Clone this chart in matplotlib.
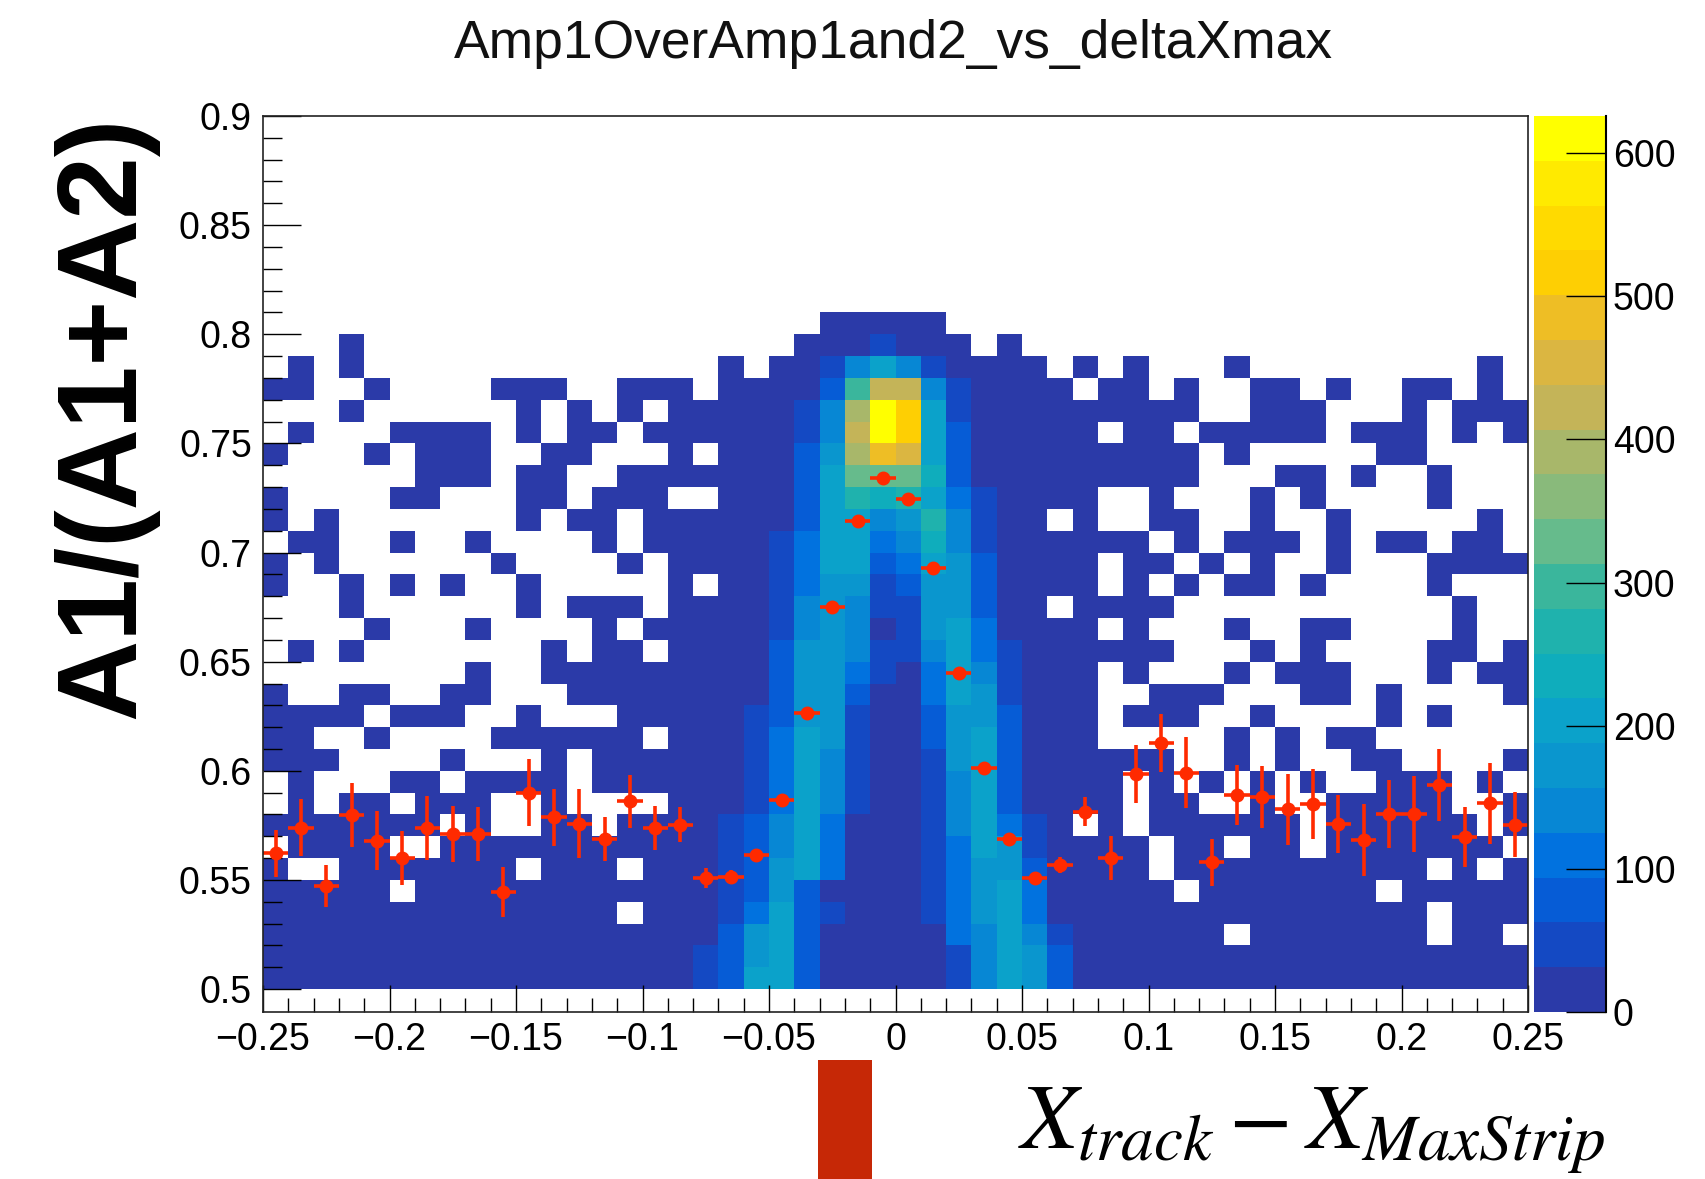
import numpy as np
import matplotlib
matplotlib.use('Agg')
import matplotlib.pyplot as plt
from matplotlib.colors import LinearSegmentedColormap
from matplotlib.patches import FancyBboxPatch

plt.rcParams['font.family'] = ['Liberation Sans', 'DejaVu Sans']
plt.rcParams['mathtext.fontset'] = 'stix'

# occupied bins per row, top row (0.80-0.81) first, as inclusive column ranges
filled_ranges = [
    [(22, 26)],
    [(3, 3), (21, 27), (29, 29)],
    [(1, 1), (3, 3), (18, 18), (20, 30), (32, 32), (34, 34), (38, 38), (48, 48)],
    [(0, 1), (4, 4), (9, 11), (14, 16), (18, 31), (33, 34), (36, 36), (39, 40), (42, 42), (45, 46), (48, 48)],
    [(3, 3), (10, 10), (12, 12), (14, 14), (16, 36), (39, 41), (45, 45), (47, 49)],
    [(1, 1), (5, 8), (10, 10), (12, 13), (15, 32), (34, 35), (37, 41), (43, 45), (47, 47), (49, 49)],
    [(0, 0), (4, 4), (6, 8), (11, 12), (16, 16), (18, 36), (38, 38), (44, 45)],
    [(6, 8), (10, 11), (14, 36), (40, 41), (43, 43), (46, 46)],
    [(0, 0), (5, 6), (10, 11), (13, 15), (18, 32), (35, 35), (39, 39), (41, 41), (46, 46)],
    [(0, 0), (2, 2), (10, 10), (12, 13), (15, 30), (32, 32), (35, 36), (39, 39), (42, 42), (48, 48)],
    [(1, 2), (5, 5), (8, 8), (13, 13), (15, 34), (36, 36), (38, 40), (42, 42), (44, 45), (47, 48)],
    [(0, 0), (2, 2), (9, 9), (14, 14), (16, 32), (34, 35), (37, 37), (39, 39), (42, 42), (46, 49)],
    [(0, 0), (3, 3), (5, 5), (7, 7), (10, 10), (16, 16), (18, 32), (34, 34), (36, 36), (38, 39), (41, 41), (46, 46)],
    [(3, 3), (10, 10), (12, 14), (16, 30), (32, 35), (47, 47)],
    [(4, 4), (8, 8), (13, 13), (15, 32), (34, 34), (38, 38), (41, 42), (47, 47)],
    [(1, 1), (3, 3), (11, 11), (13, 14), (16, 35), (39, 39), (41, 41), (46, 47), (49, 49)],
    [(8, 8), (11, 32), (34, 34), (38, 38), (40, 42), (46, 46), (48, 49)],
    [(0, 0), (3, 4), (7, 8), (12, 32), (35, 37), (41, 42), (44, 44), (49, 49)],
    [(0, 3), (5, 7), (10, 10), (14, 32), (34, 36), (39, 39), (44, 44), (46, 46)],
    [(0, 1), (4, 4), (9, 14), (16, 32), (38, 38), (40, 40), (42, 43)],
    [(0, 2), (7, 7), (11, 11), (13, 35), (38, 38), (40, 40), (43, 44), (49, 49)],
    [(1, 1), (5, 6), (8, 11), (13, 33), (35, 35), (37, 37), (39, 39), (41, 41), (44, 46), (48, 48)],
    [(1, 1), (3, 4), (6, 8), (11, 11), (16, 33), (35, 36), (39, 39), (42, 46), (49, 49)],
    [(0, 6), (8, 8), (11, 12), (14, 31), (33, 33), (35, 40), (42, 47), (49, 49)],
    [(1, 4), (7, 34), (36, 37), (39, 40), (42, 48)],
    [(0, 0), (3, 9), (11, 13), (15, 34), (36, 45), (47, 47), (49, 49)],
    [(0, 4), (6, 35), (37, 43), (45, 49)],
    [(0, 13), (15, 45), (47, 49)],
    [(0, 37), (39, 45), (47, 48)],
    [(0, 49)],
    [(0, 49)],
]

# counts in the central columns 17..31, same row order
low_count = 10
core_first_col = 17
core_counts = [
    [0, 0, 0, 0, 0, 15, 15, 15, 15, 15, 0, 0, 0, 0, 0],
    [0, 0, 0, 0, 15, 15, 20, 50, 20, 20, 15, 0, 0, 0, 0],
    [0, 0, 0, 10, 15, 40, 130, 210, 130, 50, 15, 10, 10, 10, 0],
    [0, 10, 0, 10, 15, 90, 290, 430, 430, 130, 50, 10, 10, 10, 10],
    [10, 10, 10, 10, 60, 150, 390, 620, 520, 190, 55, 10, 10, 10, 10],
    [10, 10, 10, 10, 50, 130, 430, 600, 520, 215, 90, 10, 10, 10, 10],
    [0, 10, 10, 10, 70, 180, 400, 490, 440, 215, 90, 10, 10, 10, 10],
    [10, 10, 10, 10, 80, 190, 320, 320, 320, 230, 90, 10, 10, 10, 10],
    [0, 10, 10, 10, 80, 195, 270, 240, 270, 215, 110, 50, 10, 10, 10],
    [10, 10, 10, 10, 90, 190, 205, 140, 170, 255, 140, 55, 10, 10, 0],
    [10, 10, 10, 40, 110, 195, 195, 110, 130, 235, 150, 55, 10, 10, 10],
    [10, 10, 10, 55, 110, 190, 195, 90, 100, 205, 170, 80, 10, 10, 10],
    [0, 10, 10, 55, 120, 185, 180, 60, 70, 185, 170, 80, 10, 10, 10],
    [10, 10, 10, 45, 130, 180, 150, 55, 60, 170, 175, 90, 10, 10, 0],
    [10, 10, 10, 60, 150, 185, 150, 30, 40, 170, 190, 110, 10, 10, 10],
    [10, 10, 10, 70, 165, 185, 130, 40, 40, 140, 190, 120, 40, 10, 10],
    [10, 10, 10, 75, 170, 180, 110, 40, 30, 120, 195, 140, 50, 10, 10],
    [10, 10, 10, 80, 180, 165, 70, 20, 30, 100, 190, 165, 60, 10, 10],
    [10, 10, 40, 90, 185, 165, 60, 25, 30, 80, 185, 180, 70, 10, 10],
    [10, 10, 40, 100, 190, 165, 50, 25, 25, 70, 180, 190, 80, 10, 10],
    [10, 10, 45, 110, 190, 150, 50, 15, 15, 60, 165, 190, 80, 10, 10],
    [10, 10, 50, 120, 195, 140, 50, 15, 15, 50, 150, 195, 90, 10, 10],
    [10, 10, 55, 120, 205, 130, 40, 15, 15, 40, 140, 195, 90, 10, 10],
    [10, 35, 65, 130, 205, 120, 25, 15, 15, 55, 130, 195, 110, 50, 10],
    [10, 40, 70, 150, 195, 110, 20, 15, 15, 60, 120, 195, 160, 55, 10],
    [10, 40, 75, 165, 195, 100, 15, 15, 15, 60, 110, 185, 185, 90, 10],
    [10, 50, 90, 185, 90, 20, 15, 15, 15, 60, 110, 185, 210, 100, 10],
    [10, 60, 100, 195, 90, 40, 15, 15, 15, 60, 110, 185, 210, 110, 10],
    [10, 70, 175, 195, 90, 15, 15, 15, 15, 15, 110, 130, 200, 130, 40],
    [50, 85, 185, 195, 90, 15, 15, 15, 15, 15, 60, 130, 190, 170, 80],
    [50, 90, 190, 195, 90, 15, 15, 15, 15, 15, 60, 130, 190, 170, 80],
]

# profile points
profile_y = [0.5622, 0.574, 0.5472, 0.5798, 0.568, 0.560, 0.5737, 0.571, 0.571, 0.5443,
             0.590, 0.5787, 0.5757, 0.5687, 0.586, 0.5737, 0.5752, 0.5508, 0.5515, 0.5613,
             0.5864, 0.6263, 0.675, 0.7145, 0.734, 0.7245, 0.693, 0.6446, 0.6015, 0.5687,
             0.5508, 0.5568, 0.5813, 0.560, 0.5986, 0.6127, 0.5992, 0.558, 0.589, 0.588,
             0.5824, 0.5847, 0.5757, 0.5684, 0.5803, 0.5803, 0.5936, 0.5696, 0.5852, 0.5752]
profile_err = [0.0107, 0.013, 0.0095, 0.0145, 0.0136, 0.0125, 0.0146, 0.0128, 0.0125, 0.0115,
               0.0155, 0.013, 0.0158, 0.010, 0.012, 0.010, 0.008, 0.0045, 0.003, 0.003,
               0.003, 0.003, 0.002, 0.002, 0.002, 0.002, 0.002, 0.002, 0.002, 0.002,
               0.003, 0.0035, 0.0067, 0.010, 0.0134, 0.0134, 0.0164, 0.0107, 0.0137, 0.014,
               0.0163, 0.016, 0.0132, 0.0164, 0.0155, 0.0174, 0.0164, 0.0138, 0.0186, 0.0149]

palette_stops = ['#2b3aa8', '#0a50d0', '#0070e0', '#0a8fd0', '#0aa0cc', '#10b0b8', '#30b5a0',
                 '#70bc88', '#a0b870', '#c8b455', '#e8b832', '#ffd000', '#ffe000', '#ffff00']

x_ticks = [-0.25, -0.2, -0.15, -0.1, -0.05, 0, 0.05, 0.1, 0.15, 0.2, 0.25]
x_labels = ['−0.25', '−0.2', '−0.15', '−0.1', '−0.05', '0', '0.05', '0.1', '0.15', '0.2', '0.25']
y_ticks = [0.5, 0.55, 0.6, 0.65, 0.7, 0.75, 0.8, 0.85, 0.9]
y_labels = ['0.5', '0.55', '0.6', '0.65', '0.7', '0.75', '0.8', '0.85', '0.9']
z_ticks = [0, 100, 200, 300, 400, 500, 600]

W, H = 1705, 1179

# build the histogram
n_rows, n_cols = len(filled_ranges), 50
counts = np.full((n_rows, n_cols), np.nan)
for r, ranges in enumerate(filled_ranges):
    for a, b in ranges:
        counts[r, a:b + 1] = low_count
    for i, v in enumerate(core_counts[r]):
        col = core_first_col + i
        if v > 0 and not np.isnan(counts[r, col]):
            counts[r, col] = v
counts = counts[::-1]  # row 0 = 0.50

x_edges = np.round(np.linspace(-0.25, 0.25, n_cols + 1), 3)
y_edges = np.round(0.5 + 0.01 * np.arange(n_rows + 1), 3)
x_centers = (x_edges[:-1] + x_edges[1:]) / 2

cmap = LinearSegmentedColormap.from_list('bird', palette_stops, N=20)

fig = plt.figure(figsize=(W / 100, H / 100), dpi=100)
ax = fig.add_axes([263 / W, 1 - 1012 / H, (1528 - 263) / W, (1012 - 116) / H])
mesh = ax.pcolormesh(x_edges, y_edges, np.ma.masked_invalid(counts), cmap=cmap, vmin=0, vmax=626)

ax.errorbar(x_centers, profile_y, xerr=0.005, yerr=profile_err, fmt='o', color='#ff2a00',
            ms=9, elinewidth=2.6, capsize=0)

ax.set_xlim(-0.25, 0.25)
ax.set_ylim(0.4895, 0.9)
ax.set_xticks(x_ticks)
ax.set_xticklabels(x_labels)
ax.set_yticks(y_ticks)
ax.set_yticklabels(y_labels)
ax.set_xticks(x_edges, minor=True)
ax.set_yticks(np.round(np.arange(0.5, 0.9, 0.01), 3), minor=True)
ax.tick_params(axis='x', which='major', direction='in', length=19.5, width=1, labelsize=27, pad=7)
ax.tick_params(axis='x', which='minor', direction='in', length=10, width=1)
ax.tick_params(axis='y', which='major', direction='in', length=27, width=1, labelsize=27, pad=8)
ax.tick_params(axis='y', which='minor', direction='in', length=13.7, width=1)
for s in ax.spines.values():
    s.set_linewidth(1.2)
    s.set_color('#222222')

# colour bar
cax = fig.add_axes([1534 / W, 1 - 1012 / H, (1606 - 1534) / W, (1012 - 116) / H])
cb = fig.colorbar(mesh, cax=cax, ticks=z_ticks)
cb.outline.set_visible(False)
cax.spines['right'].set_visible(True)
cax.spines['right'].set_linewidth(1.5)
cax.yaxis.set_ticks_position('right')
cax.tick_params(axis='y', direction='in', length=29, width=1, labelsize=27, pad=5)
cax.minorticks_off()

fig.text(893 / W, 1 - 44 / H, 'Amp1OverAmp1and2_vs_deltaXmax', fontsize=38.4, color='#111111',
         ha='center', va='center')
fig.text(105 / W, 1 - 417 / H, 'A1/(A1+A2)', fontsize=81, fontweight='bold', color='black',
         rotation=90, ha='center', va='center')
fig.text(1312 / W, 1 - 1130 / H, r'$X_{track}-X_{MaxStrip}$', fontsize=67, color='black',
         ha='center', va='center')

# red block at the bottom edge, part of the slide
fig.add_artist(FancyBboxPatch((818 / W, -0.02), 54 / W, 1 - 1060 / H + 0.02, boxstyle='square,pad=0',
                              transform=fig.transFigure, facecolor='#c62806', edgecolor='none'))

fig.savefig('out.png', dpi=100)
